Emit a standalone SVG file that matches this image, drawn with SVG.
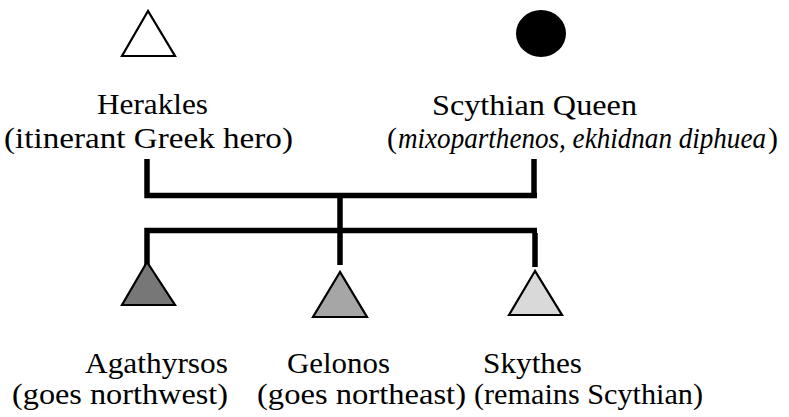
<svg xmlns="http://www.w3.org/2000/svg" width="789" height="417" viewBox="0 0 789 417">
  <style>
    .lbl { font-size: 30px; fill: #000; }
    .it { font-style: italic; }
    .link { stroke: #000; stroke-width: 5.5; fill: none; stroke-linecap: butt; }
    .sym { stroke: #000; stroke-width: 2.2; stroke-linejoin: miter; }
  </style>
  <rect width="789" height="417" fill="#fff"/>

  <!-- descent lines -->
  <g id="connectors">
    <polyline class="link" points="147,159 147,195.5 537,195.5"/>
    <line class="link" x1="534" y1="159" x2="534" y2="198"/>
    <line class="link" x1="340" y1="195" x2="340" y2="265"/>
    <polyline class="link" points="147,265 147,230.5 537,230.5"/>
    <line class="link" x1="535" y1="233" x2="535" y2="267"/>
  </g>

  <g font-family="Liberation Serif, Times New Roman, DejaVu Serif, serif">
    <!-- parents -->
    <g id="herakles">
      <polygon class="sym" fill="#fff" points="148,11 122,56 175,56"/>
      <text class="lbl" x="97" y="114" textLength="111" lengthAdjust="spacingAndGlyphs">Herakles</text>
      <text class="lbl" x="4" y="148" textLength="289" lengthAdjust="spacingAndGlyphs">(itinerant Greek hero)</text>
    </g>
    <g id="scythian-queen">
      <ellipse cx="541" cy="33.5" rx="25" ry="23.5" fill="#000"/>
      <text class="lbl" x="432" y="115" textLength="205" lengthAdjust="spacingAndGlyphs">Scythian Queen</text>
      <text class="lbl" x="387" y="148">(</text>
      <text class="lbl it" x="398" y="148" textLength="368" lengthAdjust="spacingAndGlyphs">mixoparthenos, ekhidnan diphuea</text>
      <text class="lbl" x="768" y="148">)</text>
    </g>

    <!-- sons -->
    <g id="agathyrsos">
      <polygon class="sym" fill="#777" points="147,262 122,305 175,305"/>
      <text class="lbl" x="85" y="373" textLength="143" lengthAdjust="spacingAndGlyphs">Agathyrsos</text>
      <text class="lbl" x="12" y="404" textLength="216" lengthAdjust="spacingAndGlyphs">(goes northwest)</text>
    </g>
    <g id="gelonos">
      <polygon class="sym" fill="#a6a6a6" points="340,272 313,317 367,317"/>
      <text class="lbl" x="287" y="373" textLength="103" lengthAdjust="spacingAndGlyphs">Gelonos</text>
      <text class="lbl" x="257" y="404" textLength="209" lengthAdjust="spacingAndGlyphs">(goes northeast)</text>
    </g>
    <g id="skythes">
      <polygon class="sym" fill="#d9d9d9" points="535,271 509,315 562,315"/>
      <text class="lbl" x="483" y="373" textLength="99" lengthAdjust="spacingAndGlyphs">Skythes</text>
      <text class="lbl" x="474" y="404" textLength="229" lengthAdjust="spacingAndGlyphs">(remains Scythian)</text>
    </g>
  </g>
</svg>
